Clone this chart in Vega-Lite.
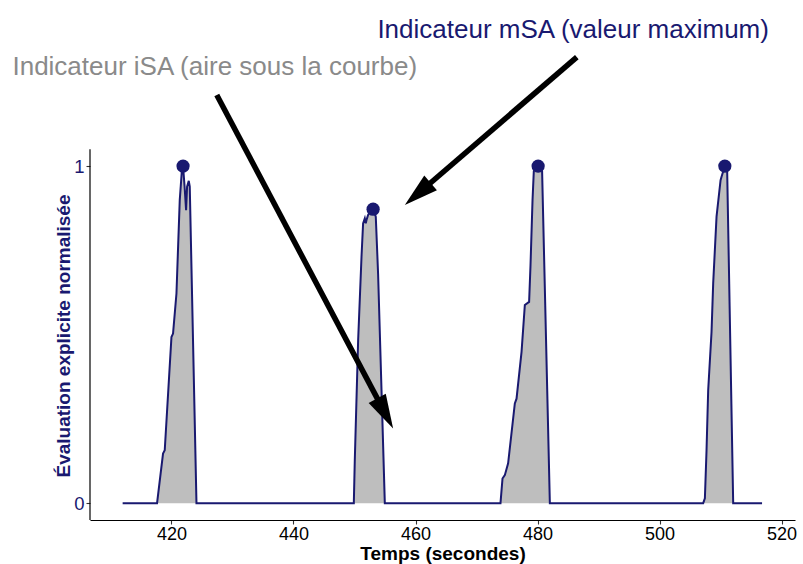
{
  "$schema": "https://vega.github.io/schema/vega-lite/v6.json",
  "width": 705,
  "height": 509,
  "autosize": {"type": "none"},
  "padding": {"left": 90, "top": 11, "right": 8, "bottom": 44},
  "config": {"view": {"stroke": null}, "font": "Liberation Sans"},
  "datasets": {
    "curve": [
      {"t": 412.0, "v": 0},
      {"t": 417.64, "v": 0},
      {"t": 418.62, "v": 0.147},
      {"t": 418.9, "v": 0.157},
      {"t": 420.0, "v": 0.493},
      {"t": 420.26, "v": 0.503},
      {"t": 420.82, "v": 0.622},
      {"t": 421.36, "v": 0.899},
      {"t": 421.7, "v": 0.985},
      {"t": 421.9, "v": 1.0},
      {"t": 422.15, "v": 0.94},
      {"t": 422.4, "v": 0.869},
      {"t": 422.56, "v": 0.939},
      {"t": 422.84, "v": 0.956},
      {"t": 423.0, "v": 0.939},
      {"t": 424.1, "v": 0},
      {"t": 449.89, "v": 0},
      {"t": 450.05, "v": 0.128},
      {"t": 450.6, "v": 0.484},
      {"t": 451.15, "v": 0.731},
      {"t": 451.41, "v": 0.83},
      {"t": 451.69, "v": 0.845},
      {"t": 451.85, "v": 0.83},
      {"t": 451.97, "v": 0.84},
      {"t": 452.23, "v": 0.855},
      {"t": 452.6, "v": 0.865},
      {"t": 453.05, "v": 0.872},
      {"t": 453.49, "v": 0.85},
      {"t": 453.87, "v": 0.68},
      {"t": 454.43, "v": 0.335},
      {"t": 454.97, "v": 0},
      {"t": 473.93, "v": 0},
      {"t": 474.26, "v": 0.073},
      {"t": 474.64, "v": 0.083},
      {"t": 475.18, "v": 0.118},
      {"t": 476.28, "v": 0.296},
      {"t": 476.56, "v": 0.31},
      {"t": 477.38, "v": 0.449},
      {"t": 477.92, "v": 0.588},
      {"t": 478.62, "v": 0.597},
      {"t": 478.85, "v": 0.706},
      {"t": 479.18, "v": 0.899},
      {"t": 479.39, "v": 0.985},
      {"t": 480.1, "v": 1.0},
      {"t": 480.75, "v": 0.985},
      {"t": 482.02, "v": 0},
      {"t": 507.15, "v": 0},
      {"t": 507.43, "v": 0.014},
      {"t": 507.7, "v": 0.157},
      {"t": 507.97, "v": 0.335},
      {"t": 508.52, "v": 0.508},
      {"t": 508.79, "v": 0.652},
      {"t": 509.34, "v": 0.85},
      {"t": 510.0, "v": 0.958},
      {"t": 510.16, "v": 0.968},
      {"t": 510.7, "v": 1.0},
      {"t": 511.08, "v": 0.988},
      {"t": 512.07, "v": 0},
      {"t": 516.8, "v": 0}
    ],
    "peaks": [
      {"t": 421.9, "v": 1.0},
      {"t": 453.05, "v": 0.872},
      {"t": 480.1, "v": 1.0},
      {"t": 510.7, "v": 1.0}
    ]
  },
  "encoding": {
    "x": {
      "field": "t",
      "type": "quantitative",
      "scale": {"domain": [406.65, 522.2], "nice": false, "zero": false},
      "axis": {
        "values": [420, 440, 460, 480, 500, 520],
        "grid": false,
        "domainColor": "#000000",
        "domainWidth": 1.2,
        "tickColor": "#333333",
        "tickSize": 4,
        "tickWidth": 1.1,
        "labelColor": "#000000",
        "labelFontSize": 18,
        "labelPadding": 1,
        "title": "Temps (secondes)",
        "titleColor": "#000000",
        "titleFontSize": 19,
        "titleFontWeight": "bold",
        "titlePadding": 1
      }
    },
    "y": {
      "field": "v",
      "type": "quantitative",
      "scale": {"domain": [-0.05, 1.46], "nice": false, "zero": false},
      "axis": {
        "values": [0, 1],
        "grid": false,
        "domain": false,
        "tickColor": "#333333",
        "tickSize": 4,
        "tickWidth": 1.1,
        "labelColor": "#191970",
        "labelFontSize": 18.5,
        "labelPadding": 2,
        "title": "Évaluation explicite normalisée",
        "titleColor": "#191970",
        "titleFontSize": 19,
        "titleFontWeight": "bold",
        "titleAngle": 270,
        "titleAlign": "center",
        "titleBaseline": "middle",
        "titleX": -26.5,
        "titleY": 324.5
      }
    }
  },
  "layer": [
    {
      "data": {"name": "curve"},
      "mark": {"type": "area", "color": "#bebebe", "opacity": 1}
    },
    {
      "data": {"name": "curve"},
      "mark": {"type": "line", "color": "#191970", "strokeWidth": 2}
    },
    {
      "data": {"name": "peaks"},
      "mark": {"type": "point", "shape": "circle", "filled": true, "color": "#191970", "opacity": 1, "size": 175}
    },
    {
      "data": {"values": [{"t": 406.65, "v": -0.05, "v2": 1.05}]},
      "mark": {"type": "rule", "color": "#000000", "strokeWidth": 1.2},
      "encoding": {"y2": {"field": "v2"}}
    },
    {
      "data": {"values": [{"t": 485.84, "v": 1.379, "label": "Indicateur mSA (valeur maximum)"}]},
      "mark": {"type": "text", "align": "center", "baseline": "alphabetic", "fontSize": 26, "color": "#191970"},
      "encoding": {"text": {"field": "label"}}
    },
    {
      "data": {"values": [{"t": 427.1, "v": 1.27, "label": "Indicateur iSA (aire sous la courbe)"}]},
      "mark": {"type": "text", "align": "center", "baseline": "alphabetic", "fontSize": 26, "color": "#8a8a8a"},
      "encoding": {"text": {"field": "label"}}
    },
    {
      "data": {"values": [
        {"t": 427.43, "v": 1.2107, "t2": 455.18, "v2": 0.2611},
        {"t": 486.44, "v": 1.3234, "t2": 460.11, "v2": 0.9134}
      ]},
      "mark": {"type": "rule", "color": "#000000", "strokeWidth": 5.5},
      "encoding": {"x2": {"field": "t2"}, "y2": {"field": "v2"}}
    },
    {
      "data": {"values": [{"t": 456.33, "v": 0.2217}]},
      "mark": {"type": "point", "shape": "M0,0L0.57,2L-0.57,2Z", "filled": true, "color": "#000000", "opacity": 1, "strokeWidth": 0, "size": 1156, "angle": 152.1}
    },
    {
      "data": {"values": [{"t": 458.25, "v": 0.8843}]},
      "mark": {"type": "point", "shape": "M0,0L0.57,2L-0.57,2Z", "filled": true, "color": "#000000", "opacity": 1, "strokeWidth": 0, "size": 1156, "angle": 229.3}
    }
  ]
}
